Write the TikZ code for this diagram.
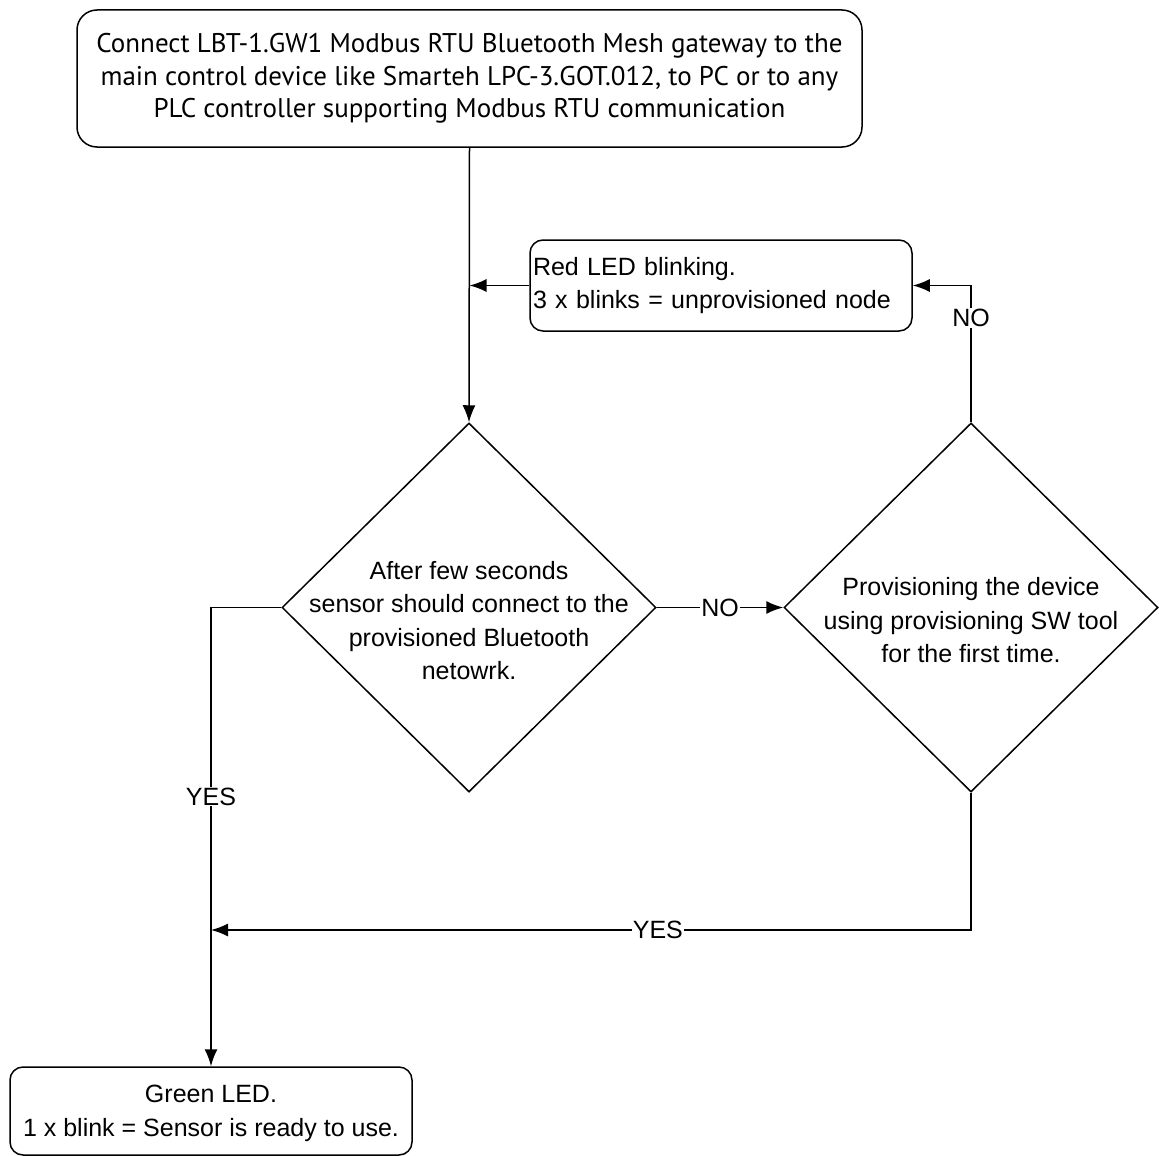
\documentclass[tikz,border=0pt]{standalone}
\usepackage{fontspec}
\setmainfont{Liberation Sans}
\newfontfamily\gwfont{PT Sans}
\usetikzlibrary{shapes.geometric,arrows.meta}

\tikzset{
  box/.style={draw, rectangle, rounded corners=13pt, line width=1.5pt, inner sep=3pt},
  decision/.style={draw, diamond, line width=1.5pt, inner sep=0pt,
    minimum width=374pt, minimum height=369pt},
  flow/.style={->, line width=1.5pt},
  lbl/.style={fill=white, inner sep=1pt},
}

\begin{document}
\begin{tikzpicture}[x=1pt, y=-1pt, >={Latex[length=17pt,width=13pt]},
  font=\fontsize{25}{33.5}\selectfont]
	\useasboundingbox (0,0) rectangle (1159,1156);

	\node[box, rounded corners=20pt, minimum width=785pt, minimum height=137pt, align=center,
	  font=\gwfont\fontsize{27}{32.5}\selectfont] (connect) at (469.5,78.5)
	{Connect LBT-1.GW1 Modbus RTU Bluetooth Mesh gateway to the\\
	 main control device like Smarteh LPC-3.GOT.012, to PC or to any\\
	 PLC controller supporting Modbus RTU communication};
	\node[box, text width=376pt, minimum height=91pt, align=left] (redled) at (721,285.5)
	{Red LED blinking.\\3 x blinks = unprovisioned node};
	\node[decision, label={[align=center, yshift=-13pt]center:After few seconds\\
	  sensor should connect to the\\provisioned Bluetooth\\netowrk.}] (check) at (469,607.5) {};
	\node[decision, label={[align=center, yshift=-13pt]center:Provisioning the device\\
	  using provisioning SW tool\\for the first time.}] (provision) at (971,607.5) {};
	\node[box, minimum width=402pt, minimum height=88pt, align=center,
	  text depth=0pt] (greenled) at (211,1111)
	{Green LED.\\1 x blink = Sensor is ready to use.};

	\coordinate (join) at (greenled.north |- 0,930);

	\draw[flow] (connect.south) -- (check.north);
	\draw[flow] (redled.west) -- (redled.west -| connect.south);
	\draw[flow] (check.east) -- node[lbl] {NO} (provision.west);
	\draw[flow] (provision.north) |- node[lbl, pos=0.38] {NO} (redled.east);
	\draw[flow] (check.west) -| node[lbl, pos=0.706] {YES} (greenled.north);
	\draw[flow] (provision.south) |- node[lbl, pos=0.706] {YES} (join);
\end{tikzpicture}
\end{document}
